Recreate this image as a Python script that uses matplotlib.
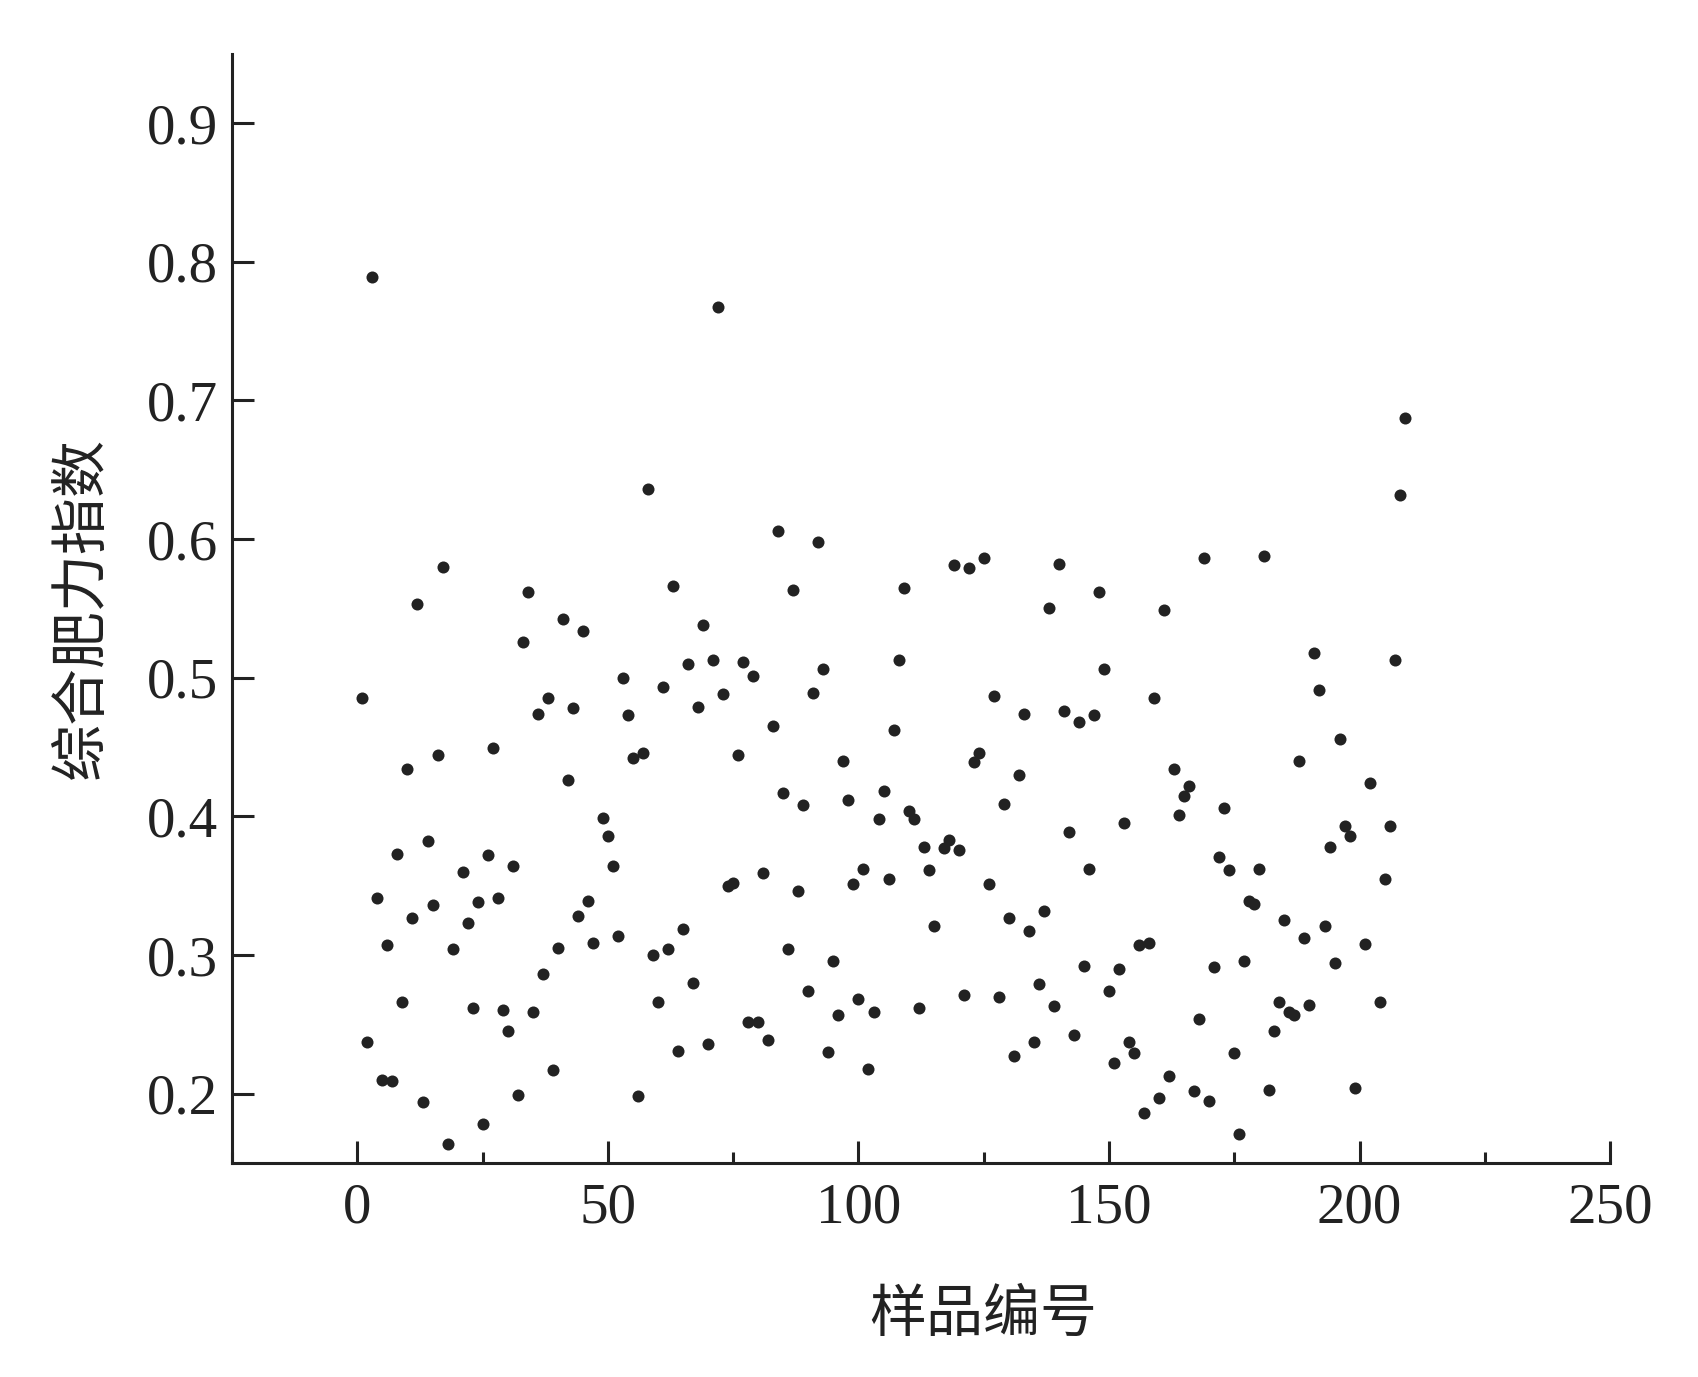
import numpy as np
import matplotlib
matplotlib.use('Agg')
import matplotlib.pyplot as plt
from matplotlib.ticker import MultipleLocator

# sample numbers and comprehensive fertility index
sample_no = [1, 2, 3, 4, 5, 6, 7, 8, 9, 10,
             11, 12, 13, 14, 15, 16, 17, 18, 19, 21,
             22, 23, 24, 25, 26, 27, 28, 29, 30, 31,
             32, 33, 34, 35, 36, 37, 38, 39, 40, 41,
             42, 43, 44, 45, 46, 47, 49, 50, 51, 52,
             53, 54, 55, 56, 57, 58, 59, 60, 61, 62,
             63, 64, 65, 66, 67, 68, 69, 70, 71, 72,
             73, 74, 75, 76, 77, 78, 79, 80, 81, 82,
             83, 84, 85, 86, 87, 88, 89, 90, 91, 92,
             93, 94, 95, 96, 97, 98, 99, 100, 101, 102,
             103, 104, 105, 106, 107, 108, 109, 110, 111, 112,
             113, 114, 115, 117, 118, 119, 120, 121, 122, 123,
             124, 125, 126, 127, 128, 129, 130, 131, 132, 133,
             134, 135, 136, 137, 138, 139, 140, 141, 142, 143,
             144, 145, 146, 147, 148, 149, 150, 151, 152, 153,
             154, 155, 156, 157, 158, 159, 160, 161, 162, 163,
             164, 165, 166, 167, 168, 169, 170, 171, 172, 173,
             174, 175, 176, 177, 178, 179, 180, 181, 182, 183,
             184, 185, 186, 187, 188, 189, 190, 191, 192, 193,
             194, 195, 196, 197, 198, 199, 201, 202, 204, 205,
             206, 207, 208, 209]

fert_index = [0.485, 0.237, 0.789, 0.341, 0.210, 0.307, 0.209, 0.373, 0.266, 0.434,
              0.327, 0.553, 0.194, 0.382, 0.336, 0.444, 0.580, 0.164, 0.304, 0.360,
              0.323, 0.262, 0.338, 0.178, 0.372, 0.449, 0.341, 0.260, 0.245, 0.364,
              0.199, 0.526, 0.562, 0.259, 0.474, 0.286, 0.485, 0.217, 0.305, 0.542,
              0.426, 0.478, 0.328, 0.534, 0.339, 0.309, 0.399, 0.386, 0.364, 0.314,
              0.500, 0.473, 0.442, 0.198, 0.446, 0.636, 0.300, 0.266, 0.493, 0.304,
              0.566, 0.231, 0.319, 0.510, 0.280, 0.479, 0.538, 0.236, 0.513, 0.767,
              0.488, 0.350, 0.352, 0.444, 0.511, 0.252, 0.501, 0.252, 0.359, 0.239,
              0.465, 0.606, 0.417, 0.304, 0.563, 0.346, 0.408, 0.274, 0.489, 0.598,
              0.506, 0.230, 0.296, 0.257, 0.440, 0.412, 0.351, 0.268, 0.362, 0.218,
              0.259, 0.398, 0.418, 0.355, 0.462, 0.513, 0.565, 0.404, 0.398, 0.262,
              0.378, 0.361, 0.321, 0.377, 0.383, 0.581, 0.376, 0.271, 0.579, 0.439,
              0.446, 0.586, 0.351, 0.487, 0.270, 0.409, 0.327, 0.227, 0.430, 0.474,
              0.317, 0.237, 0.279, 0.332, 0.550, 0.263, 0.582, 0.476, 0.389, 0.242,
              0.468, 0.292, 0.362, 0.473, 0.562, 0.506, 0.274, 0.222, 0.290, 0.395,
              0.237, 0.229, 0.307, 0.186, 0.309, 0.485, 0.197, 0.549, 0.213, 0.434,
              0.401, 0.415, 0.422, 0.202, 0.254, 0.586, 0.195, 0.291, 0.371, 0.406,
              0.361, 0.229, 0.171, 0.296, 0.339, 0.337, 0.362, 0.588, 0.203, 0.245,
              0.266, 0.325, 0.259, 0.257, 0.440, 0.312, 0.264, 0.518, 0.491, 0.321,
              0.378, 0.294, 0.456, 0.393, 0.386, 0.204, 0.308, 0.424, 0.266, 0.355,
              0.393, 0.513, 0.632, 0.687]

x_label = '样品编号'
y_label = '综合肥力指数'

plt.rcParams['font.family'] = ['Liberation Serif', 'Noto Sans CJK SC']

fig = plt.figure(figsize=(16.99, 13.77), dpi=100)
ax = fig.add_axes([0.1366, 0.1554, 0.8111, 0.8056])

ax.scatter(sample_no, fert_index, s=75, c='#222222', marker='o', linewidths=0, zorder=3)

ax.set_xlim(-25, 250)
ax.set_ylim(0.15, 0.95)
ax.xaxis.set_major_locator(MultipleLocator(50))
ax.xaxis.set_minor_locator(MultipleLocator(25))
ax.set_yticks([0.2, 0.3, 0.4, 0.5, 0.6, 0.7, 0.8, 0.9])
ax.set_yticklabels(['0.2', '0.3', '0.4', '0.5', '0.6', '0.7', '0.8', '0.9'])

for s in ['top', 'right']:
    ax.spines[s].set_visible(False)
for s in ['left', 'bottom']:
    ax.spines[s].set_linewidth(2.2)
    ax.spines[s].set_color('#222222')

ax.tick_params(axis='both', which='major', direction='in', length=16, width=2.2,
               labelsize=41, color='#222222', labelcolor='#222222')
ax.tick_params(axis='x', which='minor', direction='in', length=8, width=2.2, color='#222222')
ax.tick_params(axis='y', which='major', pad=10)
ax.tick_params(axis='x', which='major', pad=14)

ax.set_xlabel(x_label, fontsize=41, family=['Noto Sans CJK SC'], color='#222222')
ax.set_ylabel(y_label, fontsize=41, family=['Noto Sans CJK SC'], color='#222222')
ax.xaxis.set_label_coords(0.545, -0.11)
ax.yaxis.set_label_coords(-0.088, 0.5)

fig.savefig('out.png', dpi=100)
